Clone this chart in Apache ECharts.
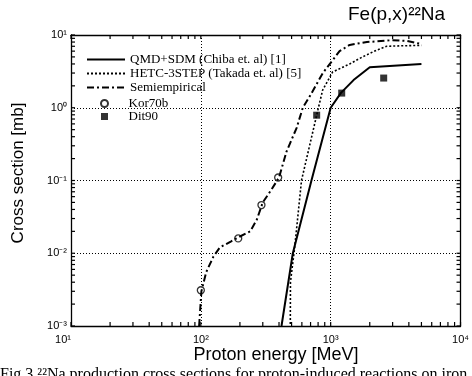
<!DOCTYPE html>
<html><head><meta charset="utf-8">
<script src="https://cdn.jsdelivr.net/npm/echarts@6/dist/echarts.min.js"></script>
<style>html,body{margin:0;padding:0;background:#fff}#c{width:472px;height:376px}</style>
</head><body><div id="c"></div>
<script>
// ---- data ----
const qmdEnergy = [418, 511, 711, 1000, 1200, 1500, 2000, 5000];
const qmdXS     = [0.001, 0.01, 0.1, 1.0, 1.6, 2.4, 3.6, 4.0];

const hetcEnergy = [488, 490, 528, 596, 780, 867, 1035, 1400, 1760, 2260, 2700, 3500, 5000];
const hetcXS     = [0.0005, 0.004, 0.012, 0.1, 0.79, 1.75, 3.1, 4.0, 5.0, 6.2, 7.0, 7.1, 7.2];

const semiEnergy = [97, 101, 110, 125, 140, 170, 200, 240, 270, 300, 350, 400, 457, 547, 610, 700, 870, 1170, 1400, 1900, 3000, 3850, 5000];
const semiXS     = [0.001, 0.003, 0.0055, 0.009, 0.012, 0.0145, 0.017, 0.02, 0.029, 0.05, 0.075, 0.11, 0.25, 0.53, 1.0, 1.5, 3.0, 6.0, 7.3, 8.0, 8.5, 8.3, 7.5];

const kor70bEnergy = [100, 194, 293, 394];
const kor70bXS     = [0.0031, 0.016, 0.046, 0.11];

const dit90Energy = [780, 1216, 2560];
const dit90XS     = [0.79, 1.59, 2.56];

const xTickValues = [10, 100, 1000, 10000];
const xTickLabels = ['10¹', '10²', '10³', '10⁴'];
const yTickValues = [0.001, 0.01, 0.1, 1, 10];
const yTickLabels = ['10⁻³', '10⁻²', '10⁻¹', '10⁰', '10¹'];
const minorMultipliers = [1, 2, 3, 4, 5, 6, 7, 8, 9];

const seriesNames = ['QMD+SDM (Chiba et. al) [1]', 'HETC-3STEP (Takada et. al) [5]', 'Semiempirical', 'Kor70b', 'Dit90'];

// ---- helpers ----
function pairs(xs, ys) { return xs.map((x, i) => [x, ys[i]]); }
function logTicks(decades) {
  const out = [];
  for (let i = 0; i < decades.length - 1; i++) minorMultipliers.forEach(m => out.push(decades[i] * m));
  out.push(decades[decades.length - 1]);
  return out;
}
function labelFor(vals, labels) {
  return function (v) {
    const i = vals.findIndex(t => Math.abs(Math.log10(t) - Math.log10(v)) < 1e-6);
    return i >= 0 ? labels[i] : '';
  };
}
const black = '#000';
const squarePath = 'path://M0 0H10V10H0Z';
const boxLine = { color: black, width: 1.3 };
const lblStyle = { color: black, fontSize: 11, fontFamily: 'Liberation Sans' };
const legendText = { color: black, fontSize: 13, fontFamily: 'Liberation Serif' };
const TICK = 4;
const tickStroke = { stroke: black, lineWidth: 1.2 };
const xMin = xTickValues[0], xMax = xTickValues[xTickValues.length - 1];
const yMin = yTickValues[0], yMax = yTickValues[yTickValues.length - 1];

const chart = echarts.init(document.getElementById('c'), null, { renderer: 'canvas' });
chart.setOption({
  animation: false,
  backgroundColor: '#fff',
  grid: { left: 71, right: 10, top: 35, bottom: 50 },
  xAxis: [
    { type: 'log', logBase: 10, min: xMin, max: xMax, position: 'bottom',
      axisLine: { onZero: false, lineStyle: boxLine }, axisTick: { show: false },
      splitLine: { show: true, lineStyle: { color: black, type: [1, 2], width: 1 } },
      axisLabel: Object.assign({ formatter: labelFor(xTickValues, xTickLabels), margin: 8, alignMinLabel: 'right' }, lblStyle) },
    { type: 'log', logBase: 10, min: xMin, max: xMax, position: 'top',
      axisLine: { show: true, onZero: false, lineStyle: boxLine }, splitLine: { show: false },
      axisLabel: { show: false }, axisTick: { show: false } }
  ],
  yAxis: [
    { type: 'log', logBase: 10, min: yMin, max: yMax, position: 'left',
      axisLine: { onZero: false, lineStyle: boxLine }, axisTick: { show: false },
      splitLine: { show: true, lineStyle: { color: black, type: [1, 2], width: 1 } },
      axisLabel: Object.assign({ formatter: labelFor(yTickValues, yTickLabels), margin: 4 }, lblStyle) },
    { type: 'log', logBase: 10, min: yMin, max: yMax, position: 'right',
      axisLine: { show: true, onZero: false, lineStyle: boxLine }, splitLine: { show: false },
      axisLabel: { show: false }, axisTick: { show: false } }
  ],
  legend: [
    { data: seriesNames.slice(0, 3), orient: 'vertical', left: 86, top: 53, padding: 0,
      itemWidth: 38, itemHeight: 10, itemGap: 1, selectedMode: false,
      itemStyle: { opacity: 0 }, textStyle: legendText },
    { data: [{ name: seriesNames[3] }, { name: seriesNames[4], icon: squarePath }],
      orient: 'vertical', left: 100, top: 97, padding: 0,
      itemWidth: 38, itemHeight: 7, itemGap: 0, selectedMode: false, textStyle: legendText }
  ],
  series: [
    { name: seriesNames[0], type: 'line', data: pairs(qmdEnergy, qmdXS), symbol: 'none', clip: true,
      lineStyle: { color: black, width: 2 }, itemStyle: { color: black } },
    { name: seriesNames[1], type: 'line', data: pairs(hetcEnergy, hetcXS), symbol: 'none', clip: true,
      lineStyle: { color: black, width: 1.6, type: [2, 2] }, itemStyle: { color: black } },
    { name: seriesNames[2], type: 'line', data: pairs(semiEnergy, semiXS), symbol: 'none', clip: true,
      lineStyle: { color: black, width: 2, type: [7, 3, 2, 3] }, itemStyle: { color: black } },
    { name: seriesNames[3], type: 'scatter', data: pairs(kor70bEnergy, kor70bXS), symbol: 'circle', symbolSize: 7,
      itemStyle: { color: '#fff', borderColor: black, borderWidth: 1.3 } },
    { name: seriesNames[4], type: 'scatter', data: pairs(dit90Energy, dit90XS), symbol: squarePath, symbolSize: 7,
      itemStyle: { color: black } },
    // tick marks on all four sides, placed through the axes' own scales
    { type: 'custom', silent: true, xAxisIndex: 0, yAxisIndex: 0, data: logTicks(xTickValues).map(v => [v, yMin]),
      renderItem: function (params, api) {
        const p = api.coord([api.value(0), yMin]);
        const q = api.coord([api.value(0), yMax]);
        return { type: 'group', children: [
          { type: 'line', shape: { x1: p[0], y1: p[1], x2: p[0], y2: p[1] - TICK }, style: tickStroke },
          { type: 'line', shape: { x1: q[0], y1: q[1], x2: q[0], y2: q[1] + TICK }, style: tickStroke }
        ] };
      } },
    { type: 'custom', silent: true, xAxisIndex: 0, yAxisIndex: 0, data: logTicks(yTickValues).map(v => [xMin, v]),
      renderItem: function (params, api) {
        const p = api.coord([xMin, api.value(1)]);
        const q = api.coord([xMax, api.value(1)]);
        return { type: 'group', children: [
          { type: 'line', shape: { x1: p[0], y1: p[1], x2: p[0] + TICK, y2: p[1] }, style: tickStroke },
          { type: 'line', shape: { x1: q[0], y1: q[1], x2: q[0] - TICK, y2: q[1] }, style: tickStroke }
        ] };
      } }
  ],
  graphic: [
    { type: 'text', left: 348, top: 5, style: { text: 'Fe(p,x)²²Na', fill: black, font: '19px "Liberation Sans"' } },
    { type: 'text', x: 276, y: 355, style: { text: 'Proton energy [MeV]', fill: black, font: '18px "Liberation Sans"', align: 'center', verticalAlign: 'middle' } },
    { type: 'text', x: 18, y: 173, rotation: Math.PI / 2, style: { text: 'Cross section [mb]', fill: black, font: '17px "Liberation Sans"', align: 'center', verticalAlign: 'middle' } },
    { type: 'text', x: 0, y: 367, style: { text: 'Fig.3 ²²Na production cross sections for proton-induced reactions on iron', fill: black, font: '16px "Liberation Serif"' } }
  ]
});
</script></body></html>
